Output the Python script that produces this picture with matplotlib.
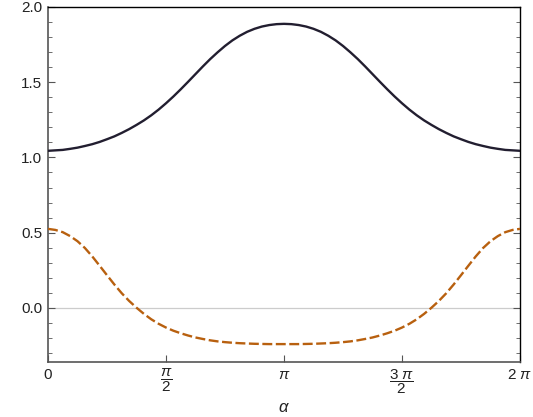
import numpy as np
import matplotlib
matplotlib.use("Agg")
import matplotlib.pyplot as plt
from matplotlib.ticker import MultipleLocator

# alpha sampled at steps of pi/32 over [0, 2pi]
alpha_steps = list(range(65))  # multiples of pi/32
upper = [1.044, 1.047, 1.050, 1.057, 1.065, 1.076, 1.088, 1.103, 1.121,
         1.140, 1.163, 1.188, 1.216, 1.246, 1.280, 1.318, 1.360, 1.405,
         1.453, 1.503, 1.554, 1.605, 1.654, 1.699, 1.741, 1.778, 1.809,
         1.835, 1.855, 1.870, 1.880, 1.886, 1.888,
         1.886, 1.880, 1.870, 1.855, 1.835, 1.809, 1.778, 1.741, 1.699,
         1.654, 1.605, 1.554, 1.503, 1.453, 1.405, 1.360, 1.318, 1.280,
         1.246, 1.216, 1.188, 1.163, 1.140, 1.121, 1.103, 1.088, 1.076,
         1.065, 1.057, 1.050, 1.047, 1.044]
lower = [0.525, 0.518, 0.503, 0.477, 0.443, 0.398, 0.342, 0.280, 0.217,
         0.155, 0.097, 0.046, 0.001, -0.040, -0.076, -0.106, -0.131, -0.152,
         -0.169, -0.184, -0.197, -0.207, -0.216, -0.223, -0.228, -0.232, -0.235,
         -0.237, -0.239, -0.240, -0.241, -0.241, -0.241,
         -0.241, -0.241, -0.240, -0.239, -0.237, -0.235, -0.232, -0.228, -0.223,
         -0.216, -0.207, -0.197, -0.184, -0.169, -0.152, -0.131, -0.106, -0.076,
         -0.040, 0.001, 0.046, 0.097, 0.155, 0.217, 0.280, 0.342, 0.398,
         0.443, 0.477, 0.503, 0.518, 0.525]
xtick_vals = [0, 0.5, 1, 1.5, 2]  # multiples of pi
xtick_labels = ["0", r"$\dfrac{\pi}{2}$", r"$\pi$", r"$\dfrac{3\ \pi}{2}$", r"$2\ \pi$"]
ytick_vals = [0.0, 0.5, 1.0, 1.5, 2.0]

plt.rcParams['font.family'] = ['Liberation Sans', 'DejaVu Sans']
plt.rcParams['mathtext.fontset'] = 'custom'
plt.rcParams['mathtext.rm'] = 'Liberation Sans'
plt.rcParams['mathtext.it'] = 'Liberation Sans:italic'
plt.rcParams['mathtext.bf'] = 'Liberation Sans:bold'

alpha = np.array(alpha_steps) * np.pi / 32

fig = plt.figure(figsize=(5.33, 4.17), dpi=100)
ax = fig.add_axes([48/533, 1 - 362/417, (520-48)/533, (362-7)/417])

ax.axhline(0, color="#cccccc", lw=0.9, zorder=1)
ax.plot(alpha, upper, color="#221e30", lw=1.7, zorder=3)
ax.plot(alpha, lower, color="#b8600f", lw=1.7, ls=(0, (4.2, 1.5)), zorder=3)

ax.set_xlim(0, 2*np.pi)
ax.set_ylim(-0.36, 2.0)
ax.set_xticks([v*np.pi for v in xtick_vals])
ax.set_xticklabels(xtick_labels)
ax.set_yticks(ytick_vals)
ax.set_yticklabels([f"{v:.1f}" for v in ytick_vals])
ax.yaxis.set_minor_locator(MultipleLocator(0.1))

for s in ["left", "bottom"]:
    ax.spines[s].set_color("#555555")
    ax.spines[s].set_linewidth(1.2)
for s in ["right", "top"]:
    ax.spines[s].set_color("black")
    ax.spines[s].set_linewidth(1.0)

ax.tick_params(axis="both", which="major", direction="in", length=5, width=0.8,
               color="#555555", labelsize=11, labelcolor="#222222", pad=4)
ax.tick_params(axis="y", which="minor", direction="in", length=3, width=0.6, color="#555555")
ax.tick_params(axis="y", which="both", right=True, labelright=False)
ax.tick_params(axis="x", which="both", top=False)
ax.tick_params(axis="x", which="major", labelsize=11, pad=4)

ax.set_xlabel(r"$\alpha$", fontsize=12, color="#222222")
ax.xaxis.set_label_coords(0.5, -0.127)
ax.xaxis.label.set_va("center")

fig.savefig("out.png", dpi=100)
